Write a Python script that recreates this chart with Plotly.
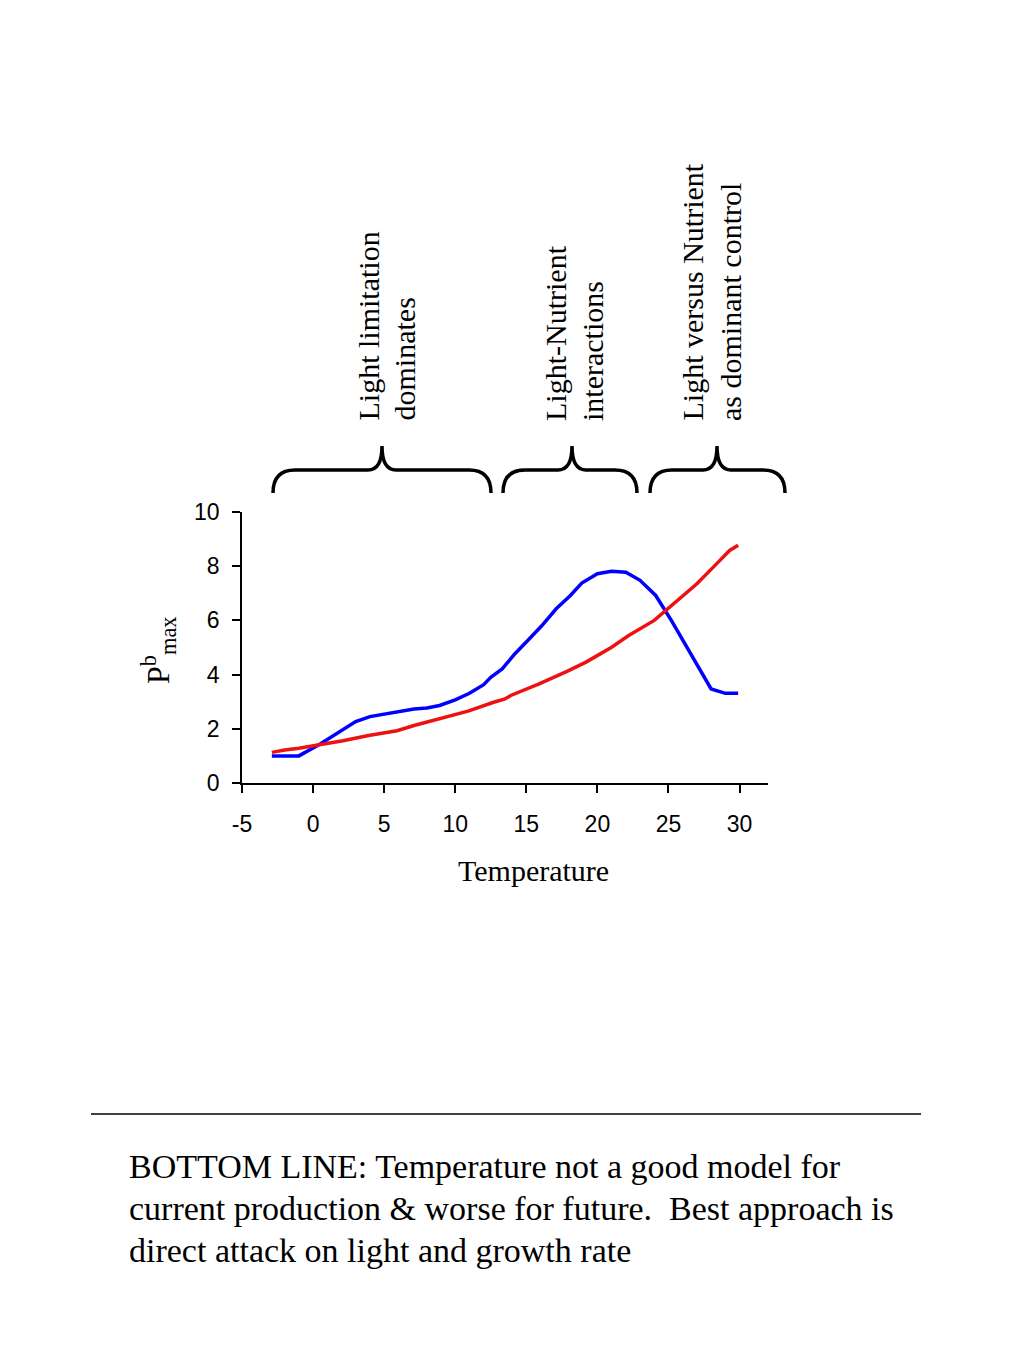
import plotly.graph_objects as go

# ---- data ----
blue_x = [-2.9, -1.0, 0.5, 1.6, 3.0, 4.0, 5.4, 7.1, 8.0, 8.9, 10.0, 11.0, 12.0, 12.5, 13.3,
          14.2, 15.1, 16.1, 17.1, 18.1, 18.9, 20.0, 21.0, 22.0, 23.0, 24.1, 25.2, 26.7, 28.0, 29.0, 29.9]
blue_y = [1.0, 1.0, 1.44, 1.81, 2.27, 2.45, 2.59, 2.73, 2.77, 2.86, 3.07, 3.31, 3.63, 3.90, 4.21,
          4.77, 5.26, 5.81, 6.43, 6.92, 7.38, 7.72, 7.81, 7.78, 7.48, 6.92, 6.00, 4.64, 3.47, 3.31, 3.31]

red_x = [-2.9, -2.0, -1.0, 0.5, 2.1, 3.9, 5.9, 7.1, 8.9, 10.9, 12.7, 13.5, 13.9, 15.9, 17.9,
         19.2, 21.0, 22.2, 24.0, 25.5, 27.0, 28.5, 29.3, 29.9]
red_y = [1.13, 1.22, 1.28, 1.40, 1.56, 1.75, 1.93, 2.12, 2.36, 2.65, 2.98, 3.10, 3.23, 3.66, 4.13,
         4.46, 5.01, 5.44, 6.00, 6.67, 7.35, 8.15, 8.58, 8.77]

x_ticks = [-5, 0, 5, 10, 15, 20, 25, 30]
x_tick_text = ["-5", "0", "5", "10", "15", "20", "25", "30"]
y_ticks = [0, 2, 4, 6, 8, 10]

region_lines = [("Light limitation", "dominates"),
                ("Light-Nutrient", "interactions"),
                ("Light versus Nutrient", "as dominant control")]
bottom_lines = ["BOTTOM LINE: Temperature not a good model for",
                "current production &amp; worse for future.&nbsp; Best approach is",
                "direct attack on light and growth rate"]

# ---- layout geometry (reference pixels; page body has an 8px margin) ----
OFF = 8
W, H = 1024, 1365
L, R, T, B = 242, 768, 512, 783
PW, PH = R - L, B - T

def px(x):
    return (x - L) / PW

def py(y):
    return (B - y) / PH

serif = "Liberation Serif, Times New Roman, serif"
sans = "Liberation Sans, Arial, sans-serif"

fig = go.Figure()
fig.add_trace(go.Scatter(x=blue_x, y=blue_y, mode="lines",
                         line=dict(color="#0000ff", width=3.5), hoverinfo="skip"))
fig.add_trace(go.Scatter(x=red_x, y=red_y, mode="lines",
                         line=dict(color="#ee1111", width=3.5), hoverinfo="skip"))

axis_common = dict(showgrid=False, zeroline=False, showline=True, linecolor="black",
                   linewidth=1.5, ticks="outside", ticklen=8, tickwidth=1.5,
                   tickcolor="black", tickfont=dict(family=sans, size=23, color="black"))

fig.update_layout(
    width=W, height=H,
    margin=dict(l=L - OFF, r=W - R + OFF, t=T - OFF, b=H - B + OFF, pad=0),
    paper_bgcolor="white", plot_bgcolor="white",
    showlegend=False,
    xaxis=dict(range=[-5, 32], tickvals=x_ticks, ticktext=x_tick_text,
               ticklabelstandoff=12, **axis_common),
    yaxis=dict(range=[0, 10], tickvals=y_ticks, ticklabelstandoff=8, **axis_common),
)

annotations = []
annotations.append(dict(text="Temperature", x=px(533), y=py(870), xref="paper", yref="paper",
                        showarrow=False, font=dict(family=serif, size=30, color="black"),
                        xanchor="center", yanchor="middle"))
annotations.append(dict(text="P<sup>b</sup><sub>max</sub>", x=px(158), y=py(650),
                        xref="paper", yref="paper", showarrow=False, textangle=-90,
                        font=dict(family=serif, size=32, color="black"),
                        xanchor="center", yanchor="middle"))

label_centers = [(368, 404), (555, 592), (692, 730)]
for (l1, l2), (c1, c2) in zip(region_lines, label_centers):
    for txt, cx in ((l1, c1), (l2, c2)):
        annotations.append(dict(text=txt, x=px(cx), y=py(423), xref="paper", yref="paper",
                                showarrow=False, textangle=-90,
                                font=dict(family=serif, size=30, color="black"),
                                xanchor="center", yanchor="bottom"))

for i, line in enumerate(bottom_lines):
    annotations.append(dict(text=line, x=px(127), y=py(1166 + 42 * i), xref="paper", yref="paper",
                            showarrow=False, align="left",
                            font=dict(family=serif, size=34, color="black"),
                            xanchor="left", yanchor="middle"))
fig.update_layout(annotations=annotations)

shapes = []
braces = [(273, 491, 382), (503, 637, 572), (650, 785, 717)]
yb, yh, yt = 493, 470, 446
for x0, x1, xt in braces:
    p = (f"M {px(x0)},{py(yb)} Q {px(x0)},{py(yh)} {px(x0 + 22)},{py(yh)} "
         f"L {px(xt - 14)},{py(yh)} Q {px(xt)},{py(yh)} {px(xt)},{py(yt)} "
         f"Q {px(xt)},{py(yh)} {px(xt + 14)},{py(yh)} "
         f"L {px(x1 - 22)},{py(yh)} Q {px(x1)},{py(yh)} {px(x1)},{py(yb)}")
    shapes.append(dict(type="path", path=p, xref="paper", yref="paper",
                       line=dict(color="black", width=3.5)))
shapes.append(dict(type="line", x0=px(91), x1=px(921), y0=py(1114), y1=py(1114),
                   xref="paper", yref="paper", line=dict(color="black", width=1.5)))
fig.update_layout(shapes=shapes)

fig.write_html("out.html")
